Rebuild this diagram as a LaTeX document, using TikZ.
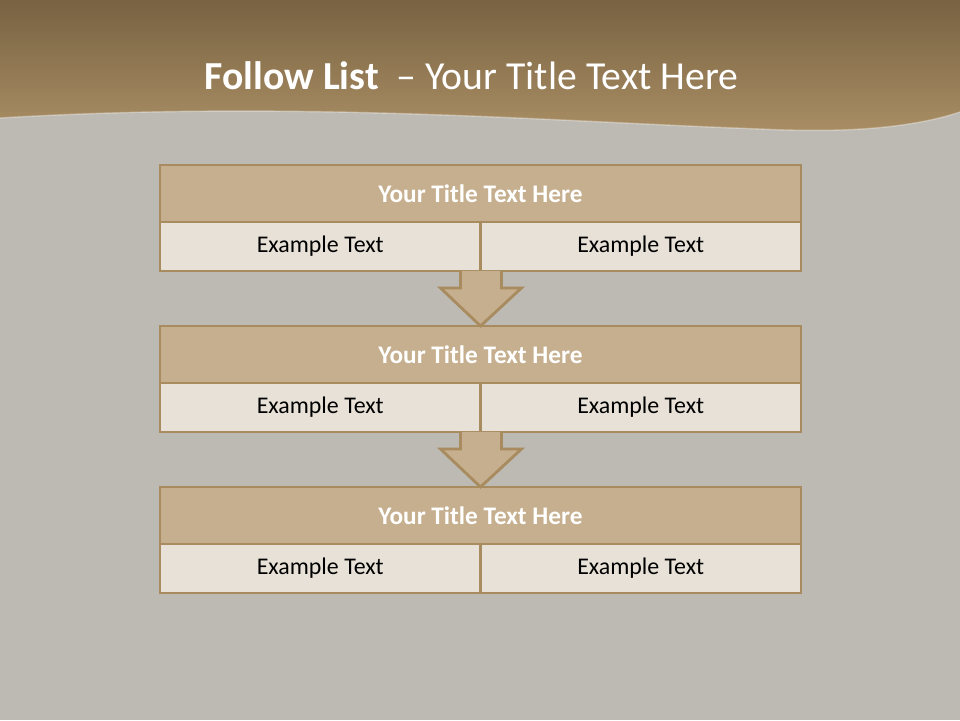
\documentclass[tikz,border=0pt]{standalone}
\usepackage{fontspec}
\setmainfont{Carlito}
\usetikzlibrary{calc}
\definecolor{rockgray}{HTML}{BDBAB4}
\definecolor{headtop}{HTML}{786242}
\definecolor{headbot}{HTML}{A98E64}
\definecolor{boxedge}{HTML}{A88B5E}
\definecolor{titlefill}{HTML}{C6AF8E}
\definecolor{cellfill}{HTML}{E7E1D7}
\tikzset{
  rowtitle/.style={draw=boxedge, fill=titlefill, line width=1.6pt, outer sep=0pt,
    minimum width=12.82cm, minimum height=1.14cm, inner sep=0pt, text=white,
    font=\fontsize{14.4}{17}\selectfont\bfseries},
  rowcell/.style={draw=boxedge, fill=cellfill, line width=1.6pt, outer sep=0pt,
    minimum width=6.41cm, minimum height=0.98cm, inner sep=0pt,
    font=\fontsize{13.6}{16}\selectfont},
  downarrow/.style={draw=boxedge, fill=titlefill, line width=1.6pt}
}

\begin{document}
\begin{tikzpicture}[x=0.02cm, y=-0.02cm]
    \useasboundingbox (0,0) rectangle (960,720);
    \fill[rockgray] (0,0) rectangle (960,720);
    % header band with wavy lower edge
    \shade[top color=headtop, bottom color=headbot] (0,0) -- (960,0) -- (960,112)
        .. controls (900,132) and (820,132) .. (760,129)
        .. controls (560,122) and (300,100) .. (0,118) -- cycle;
    \draw[white, opacity=0.35, line width=0.8pt] (960,112)
        .. controls (900,132) and (820,132) .. (760,129)
        .. controls (560,122) and (300,100) .. (0,118);
    \node[text=white, font=\fontsize{22.6}{27}\selectfont] (head) at (471.5,76)
        {\textbf{Follow List}\ \ – Your Title Text Here};

    % three steps
    \node[rowtitle] (t1) at (480.5,193.5) {Your Title Text Here};
    \node[rowcell, anchor=north east] (l1) at (t1.south) {Example Text};
    \node[rowcell, anchor=north west] (r1) at (t1.south) {Example Text};

    \node[rowtitle] (t2) at (480.5,354.5) {Your Title Text Here};
    \node[rowcell, anchor=north east] (l2) at (t2.south) {Example Text};
    \node[rowcell, anchor=north west] (r2) at (t2.south) {Example Text};

    \node[rowtitle] (t3) at (480.5,515.5) {Your Title Text Here};
    \node[rowcell, anchor=north east] (l3) at (t3.south) {Example Text};
    \node[rowcell, anchor=north west] (r3) at (t3.south) {Example Text};

    % block arrows between the steps
    \draw[downarrow] ($(l1.south east)+(-20,0)$) -- ++(0,17) -- ++(-20,0) -- (t2.north)
        -- ($(l1.south east)+(41,17)$) -- ++(-20,0) -- ($(l1.south east)+(21,0)$);
    \draw[downarrow] ($(l2.south east)+(-20,0)$) -- ++(0,17) -- ++(-20,0) -- (t3.north)
        -- ($(l2.south east)+(41,17)$) -- ++(-20,0) -- ($(l2.south east)+(21,0)$);
\end{tikzpicture}
\end{document}
